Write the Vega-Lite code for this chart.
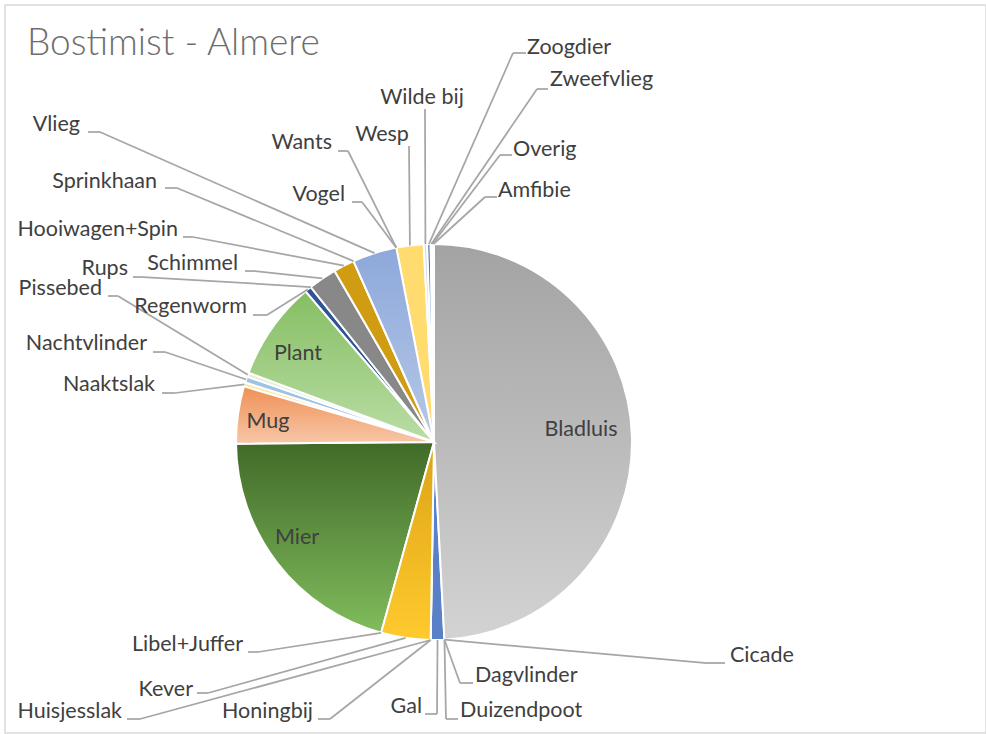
{
  "$schema": "https://vega.github.io/schema/vega-lite/v6.json",
  "width": 981,
  "height": 728,
  "autosize": {"type": "none"},
  "padding": {"left": 5, "top": 5, "right": 0, "bottom": 1},
  "background": "white",
  "config": {"view": {"stroke": "#D9D9D9", "strokeWidth": 1.5}},
  "title": {"text": "Bostimist - Almere", "anchor": "start", "frame": "group", "orient": "top", "offset": 0, "baseline": "alphabetic", "dx": 22, "dy": 87, "font": "Lato", "fontWeight": 300, "fontSize": 37, "color": "#6E6E6E"},
  "datasets": {
    "labels": [
      {"category": "Bladluis", "lx": 0.7424, "ly": 0.0606, "align": "center"},
      {"category": "Cicade", "lx": 1.4949, "ly": -1.0808, "align": "left", "kx": 1.3788, "ky": -1.1162, "ex": 1.4697},
      {"category": "Dagvlinder", "lx": 0.2071, "ly": -1.1818, "align": "left", "kx": 0.1313, "ky": -1.2172, "ex": 0.197},
      {"category": "Duizendpoot", "lx": 0.1313, "ly": -1.3586, "align": "left", "kx": 0.0606, "ky": -1.399, "ex": 0.1212},
      {"category": "Gal", "lx": -0.0606, "ly": -1.3384, "align": "right", "kx": 0.0152, "ky": -1.3737, "ex": -0.0455},
      {"category": "Honingbij", "lx": -0.6111, "ly": -1.3636, "align": "right", "kx": -0.5253, "ky": -1.399, "ex": -0.5859},
      {"category": "Huisjesslak", "lx": -1.5758, "ly": -1.3636, "align": "right", "kx": -1.4848, "ky": -1.399, "ex": -1.5505},
      {"category": "Kever", "lx": -1.2172, "ly": -1.2525, "align": "right", "kx": -1.1414, "ky": -1.2677, "ex": -1.197},
      {"category": "Libel+Juffer", "lx": -0.9646, "ly": -1.0253, "align": "right", "kx": -0.8889, "ky": -1.0606, "ex": -0.9394},
      {"category": "Mier", "lx": -0.6919, "ly": -0.4848, "align": "center"},
      {"category": "Mug", "lx": -0.8384, "ly": 0.101, "align": "center"},
      {"category": "Naaktslak", "lx": -1.4091, "ly": 0.2879, "align": "right", "kx": -1.3081, "ky": 0.2475, "ex": -1.3737},
      {"category": "Nachtvlinder", "lx": -1.4495, "ly": 0.4949, "align": "right", "kx": -1.3586, "ky": 0.4545, "ex": -1.4192},
      {"category": "Pissebed", "lx": -1.6768, "ly": 0.7727, "align": "right", "kx": -1.596, "ky": 0.7374, "ex": -1.6465},
      {"category": "Plant", "lx": -0.6869, "ly": 0.4444, "align": "center"},
      {"category": "Regenworm", "lx": -0.9444, "ly": 0.6818, "align": "right", "kx": -0.8434, "ky": 0.6414, "ex": -0.9141},
      {"category": "Rups", "lx": -1.5455, "ly": 0.8737, "align": "right", "kx": -1.4697, "ky": 0.8333, "ex": -1.5202},
      {"category": "Schimmel", "lx": -0.9899, "ly": 0.899, "align": "right", "kx": -0.904, "ky": 0.8636, "ex": -0.9545},
      {"category": "Hooiwagen+Spin", "lx": -1.2929, "ly": 1.0707, "align": "right", "kx": -1.2172, "ky": 1.0354, "ex": -1.2677},
      {"category": "Sprinkhaan", "lx": -1.399, "ly": 1.3131, "align": "right", "kx": -1.298, "ky": 1.2828, "ex": -1.3586},
      {"category": "Vlieg", "lx": -1.7879, "ly": 1.601, "align": "right", "kx": -1.6869, "ky": 1.5657, "ex": -1.7475},
      {"category": "Vogel", "lx": -0.4495, "ly": 1.2475, "align": "right", "kx": -0.3636, "ky": 1.2121, "ex": -0.4141},
      {"category": "Wants", "lx": -0.5152, "ly": 1.5101, "align": "right", "kx": -0.4343, "ky": 1.4697, "ex": -0.4848},
      {"category": "Wesp", "lx": -0.2626, "ly": 1.5505, "align": "center", "kx": -0.1263, "ky": 1.4949, "ex": -0.1263},
      {"category": "Wilde bij", "lx": -0.0606, "ly": 1.7374, "align": "center", "kx": -0.0455, "ky": 1.6818, "ex": -0.0455},
      {"category": "Zoogdier", "lx": 0.4697, "ly": 1.9899, "align": "left", "kx": 0.399, "ky": 1.9646, "ex": 0.4646},
      {"category": "Zweefvlieg", "lx": 0.5859, "ly": 1.8283, "align": "left", "kx": 0.5202, "ky": 1.7828, "ex": 0.5758},
      {"category": "Overig", "lx": 0.399, "ly": 1.4747, "align": "left", "kx": 0.3333, "ky": 1.4495, "ex": 0.3939},
      {"category": "Amfibie", "lx": 0.3232, "ly": 1.2677, "align": "left", "kx": 0.2576, "ky": 1.2374, "ex": 0.3182}
    ]
  },
  "data": {"values": [
    {"category": "Bladluis", "value": 49.16},
    {"category": "Cicade", "value": 0},
    {"category": "Dagvlinder", "value": 0},
    {"category": "Duizendpoot", "value": 0},
    {"category": "Gal", "value": 1.11},
    {"category": "Honingbij", "value": 0},
    {"category": "Huisjesslak", "value": 0},
    {"category": "Kever", "value": 4.03},
    {"category": "Libel+Juffer", "value": 0},
    {"category": "Mier", "value": 20.56},
    {"category": "Mug", "value": 4.67},
    {"category": "Naaktslak", "value": 0.33},
    {"category": "Nachtvlinder", "value": 0.5},
    {"category": "Pissebed", "value": 0.33},
    {"category": "Plant", "value": 8.06},
    {"category": "Regenworm", "value": 0.56},
    {"category": "Rups", "value": 0},
    {"category": "Schimmel", "value": 2.31},
    {"category": "Hooiwagen+Spin", "value": 1.72},
    {"category": "Sprinkhaan", "value": 0},
    {"category": "Vlieg", "value": 3.61},
    {"category": "Vogel", "value": 0},
    {"category": "Wants", "value": 0},
    {"category": "Wesp", "value": 2.22},
    {"category": "Wilde bij", "value": 0.28},
    {"category": "Zoogdier", "value": 0.28},
    {"category": "Zweefvlieg", "value": 0.11},
    {"category": "Overig", "value": 0.08},
    {"category": "Amfibie", "value": 0.08}
  ]},
  "transform": [
    {"window": [{"op": "row_number", "as": "idx"}]},
    {"joinaggregate": [{"op": "sum", "field": "value", "as": "total"}]},
    {"window": [{"op": "sum", "field": "value", "as": "cum"}], "sort": [{"field": "idx"}], "frame": [null, 0]},
    {"calculate": "(datum.cum - datum.value) / datum.total", "as": "t0"},
    {"calculate": "datum.cum / datum.total", "as": "t1"},
    {"calculate": "sin(PI * (datum.t0 + datum.t1))", "as": "sx"},
    {"calculate": "cos(PI * (datum.t0 + datum.t1))", "as": "sy"},
    {"lookup": "category", "from": {"data": {"name": "labels"}, "key": "category", "fields": ["lx", "ly", "align", "kx", "ky", "ex"]}}
  ],
  "layer": [
    {
      "transform": [{"filter": "datum.value > 0"}],
      "mark": {"type": "arc", "outerRadius": 198, "stroke": "white", "strokeWidth": 2},
      "encoding": {
        "x": {"datum": 0, "type": "quantitative", "scale": {"domain": [-2.16667, 2.78788], "nice": false, "zero": false}, "axis": null},
        "y": {"datum": 0, "type": "quantitative", "scale": {"domain": [-1.4697, 2.20707], "nice": false, "zero": false}, "axis": null},
        "theta": {"field": "t0", "type": "quantitative", "stack": null, "scale": {"domain": [0, 1], "range": [0, 6.283185307]}},
        "theta2": {"field": "t1"},
        "color": {"field": "category", "type": "nominal", "legend": null, "scale": {
          "domain": ["Bladluis", "Gal", "Kever", "Mier", "Mug", "Naaktslak", "Nachtvlinder", "Pissebed", "Plant", "Regenworm", "Schimmel", "Hooiwagen+Spin", "Vlieg", "Wesp", "Wilde bij", "Zoogdier", "Zweefvlieg", "Overig", "Amfibie"],
          "range": ["#B8B8B8", "#5A80C8", "#F2B81F", "#5E9440", "#F3A875", "#FFE699", "#9DC3E6", "#E2EFDA", "#A0CC84", "#2F5597", "#888888", "#CF9C12", "#9FB7E0", "#FFDB70", "#C9DDF0", "#4F72B8", "#A9C4E8", "#D9D9D9", "#E0E0E0"]}}
      }
    },
    {
      "transform": [{"filter": "datum.category == 'Bladluis'"}],
      "mark": {"type": "arc", "outerRadius": 198, "stroke": "white", "strokeWidth": 2, "fill": {"gradient": "linear", "x1": 0, "y1": 0, "x2": 0, "y2": 1, "stops": [{"offset": 0, "color": "#A3A3A3"}, {"offset": 1, "color": "#D3D3D3"}]}},
      "encoding": {
        "x": {"datum": 0, "type": "quantitative", "scale": {"domain": [-2.16667, 2.78788], "nice": false, "zero": false}, "axis": null},
        "y": {"datum": 0, "type": "quantitative", "scale": {"domain": [-1.4697, 2.20707], "nice": false, "zero": false}, "axis": null},
        "theta": {"field": "t0", "type": "quantitative", "stack": null, "scale": {"domain": [0, 1], "range": [0, 6.283185307]}},
        "theta2": {"field": "t1"}
      }
    },
    {
      "transform": [{"filter": "datum.category == 'Mier'"}],
      "mark": {"type": "arc", "outerRadius": 198, "stroke": "white", "strokeWidth": 2, "fill": {"gradient": "linear", "x1": 0, "y1": 0, "x2": 0, "y2": 1, "stops": [{"offset": 0, "color": "#416A29"}, {"offset": 1, "color": "#80BC5C"}]}},
      "encoding": {
        "x": {"datum": 0, "type": "quantitative", "scale": {"domain": [-2.16667, 2.78788], "nice": false, "zero": false}, "axis": null},
        "y": {"datum": 0, "type": "quantitative", "scale": {"domain": [-1.4697, 2.20707], "nice": false, "zero": false}, "axis": null},
        "theta": {"field": "t0", "type": "quantitative", "stack": null, "scale": {"domain": [0, 1], "range": [0, 6.283185307]}},
        "theta2": {"field": "t1"}
      }
    },
    {
      "transform": [{"filter": "datum.category == 'Mug'"}],
      "mark": {"type": "arc", "outerRadius": 198, "stroke": "white", "strokeWidth": 2, "fill": {"gradient": "linear", "x1": 0, "y1": 0, "x2": 0, "y2": 1, "stops": [{"offset": 0, "color": "#EF9055"}, {"offset": 1, "color": "#F7C7A8"}]}},
      "encoding": {
        "x": {"datum": 0, "type": "quantitative", "scale": {"domain": [-2.16667, 2.78788], "nice": false, "zero": false}, "axis": null},
        "y": {"datum": 0, "type": "quantitative", "scale": {"domain": [-1.4697, 2.20707], "nice": false, "zero": false}, "axis": null},
        "theta": {"field": "t0", "type": "quantitative", "stack": null, "scale": {"domain": [0, 1], "range": [0, 6.283185307]}},
        "theta2": {"field": "t1"}
      }
    },
    {
      "transform": [{"filter": "datum.category == 'Plant'"}],
      "mark": {"type": "arc", "outerRadius": 198, "stroke": "white", "strokeWidth": 2, "fill": {"gradient": "linear", "x1": 0, "y1": 0, "x2": 0, "y2": 1, "stops": [{"offset": 0, "color": "#86BE63"}, {"offset": 1, "color": "#BADDA5"}]}},
      "encoding": {
        "x": {"datum": 0, "type": "quantitative", "scale": {"domain": [-2.16667, 2.78788], "nice": false, "zero": false}, "axis": null},
        "y": {"datum": 0, "type": "quantitative", "scale": {"domain": [-1.4697, 2.20707], "nice": false, "zero": false}, "axis": null},
        "theta": {"field": "t0", "type": "quantitative", "stack": null, "scale": {"domain": [0, 1], "range": [0, 6.283185307]}},
        "theta2": {"field": "t1"}
      }
    },
    {
      "transform": [{"filter": "datum.category == 'Kever'"}],
      "mark": {"type": "arc", "outerRadius": 198, "stroke": "white", "strokeWidth": 2, "fill": {"gradient": "linear", "x1": 0, "y1": 0, "x2": 0, "y2": 1, "stops": [{"offset": 0, "color": "#DCA316"}, {"offset": 1, "color": "#FFCA2E"}]}},
      "encoding": {
        "x": {"datum": 0, "type": "quantitative", "scale": {"domain": [-2.16667, 2.78788], "nice": false, "zero": false}, "axis": null},
        "y": {"datum": 0, "type": "quantitative", "scale": {"domain": [-1.4697, 2.20707], "nice": false, "zero": false}, "axis": null},
        "theta": {"field": "t0", "type": "quantitative", "stack": null, "scale": {"domain": [0, 1], "range": [0, 6.283185307]}},
        "theta2": {"field": "t1"}
      }
    },
    {
      "transform": [{"filter": "datum.category == 'Vlieg'"}],
      "mark": {"type": "arc", "outerRadius": 198, "stroke": "white", "strokeWidth": 2, "fill": {"gradient": "linear", "x1": 0, "y1": 0, "x2": 0, "y2": 1, "stops": [{"offset": 0, "color": "#8DA8DA"}, {"offset": 1, "color": "#B6C8E8"}]}},
      "encoding": {
        "x": {"datum": 0, "type": "quantitative", "scale": {"domain": [-2.16667, 2.78788], "nice": false, "zero": false}, "axis": null},
        "y": {"datum": 0, "type": "quantitative", "scale": {"domain": [-1.4697, 2.20707], "nice": false, "zero": false}, "axis": null},
        "theta": {"field": "t0", "type": "quantitative", "stack": null, "scale": {"domain": [0, 1], "range": [0, 6.283185307]}},
        "theta2": {"field": "t1"}
      }
    },
    {
      "transform": [{"filter": "isValid(datum.kx)"}],
      "mark": {"type": "rule", "color": "#A6A6A6", "strokeWidth": 1.75},
      "encoding": {
        "x": {"field": "sx", "type": "quantitative", "scale": {"domain": [-2.16667, 2.78788], "nice": false, "zero": false}, "axis": null},
        "y": {"field": "sy", "type": "quantitative", "scale": {"domain": [-1.4697, 2.20707], "nice": false, "zero": false}, "axis": null},
        "x2": {"field": "kx"},
        "y2": {"field": "ky"}
      }
    },
    {
      "transform": [{"filter": "isValid(datum.kx) && datum.kx != datum.ex"}],
      "mark": {"type": "rule", "color": "#A6A6A6", "strokeWidth": 1.75},
      "encoding": {
        "x": {"field": "kx", "type": "quantitative", "scale": {"domain": [-2.16667, 2.78788], "nice": false, "zero": false}, "axis": null},
        "y": {"field": "ky", "type": "quantitative", "scale": {"domain": [-1.4697, 2.20707], "nice": false, "zero": false}, "axis": null},
        "x2": {"field": "ex"},
        "y2": {"field": "ky"}
      }
    },
    {
      "transform": [{"filter": "datum.align == 'left'"}],
      "mark": {"type": "text", "align": "left", "baseline": "middle", "font": "Lato", "fontSize": 21.5, "color": "#404040"},
      "encoding": {
        "x": {"field": "lx", "type": "quantitative", "scale": {"domain": [-2.16667, 2.78788], "nice": false, "zero": false}, "axis": null},
        "y": {"field": "ly", "type": "quantitative", "scale": {"domain": [-1.4697, 2.20707], "nice": false, "zero": false}, "axis": null},
        "text": {"field": "category"}
      }
    },
    {
      "transform": [{"filter": "datum.align == 'right'"}],
      "mark": {"type": "text", "align": "right", "baseline": "middle", "font": "Lato", "fontSize": 21.5, "color": "#404040"},
      "encoding": {
        "x": {"field": "lx", "type": "quantitative", "scale": {"domain": [-2.16667, 2.78788], "nice": false, "zero": false}, "axis": null},
        "y": {"field": "ly", "type": "quantitative", "scale": {"domain": [-1.4697, 2.20707], "nice": false, "zero": false}, "axis": null},
        "text": {"field": "category"}
      }
    },
    {
      "transform": [{"filter": "datum.align == 'center'"}],
      "mark": {"type": "text", "align": "center", "baseline": "middle", "font": "Lato", "fontSize": 21.5, "color": "#404040"},
      "encoding": {
        "x": {"field": "lx", "type": "quantitative", "scale": {"domain": [-2.16667, 2.78788], "nice": false, "zero": false}, "axis": null},
        "y": {"field": "ly", "type": "quantitative", "scale": {"domain": [-1.4697, 2.20707], "nice": false, "zero": false}, "axis": null},
        "text": {"field": "category"}
      }
    }
  ]
}
